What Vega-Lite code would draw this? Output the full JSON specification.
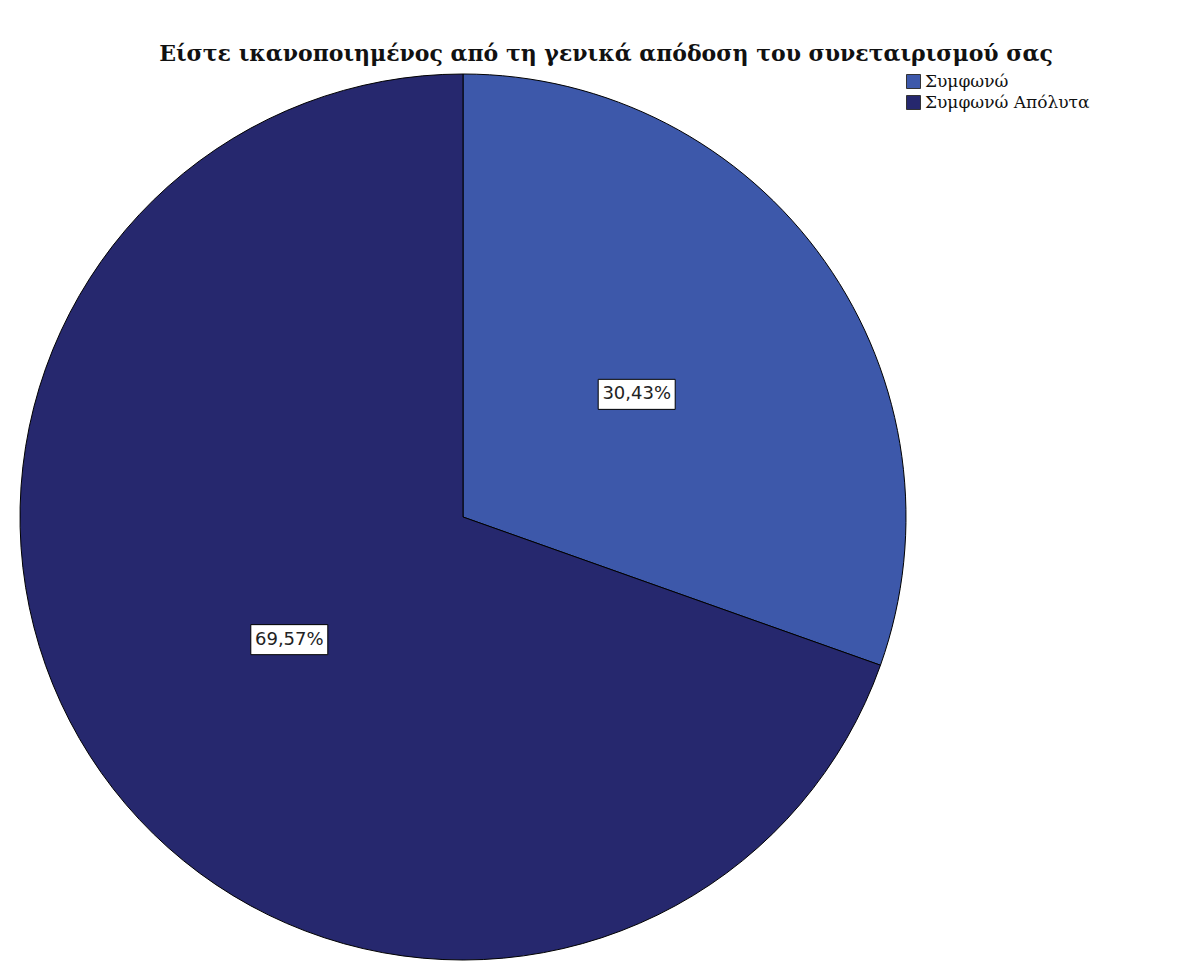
{
  "$schema": "https://vega.github.io/schema/vega-lite/v6.json",
  "autosize": {"type": "none"},
  "padding": {"left": 20, "top": 74, "right": 287, "bottom": 1},
  "width": 886,
  "height": 886,
  "background": "white",
  "title": {
    "text": "Είστε ικανοποιημένος από τη γενικά απόδοση του συνεταιρισμού σας",
    "font": "DejaVu Serif",
    "fontSize": 22,
    "fontWeight": "bold",
    "color": "#111111",
    "anchor": "middle",
    "frame": "group",
    "dx": 143,
    "offset": 6
  },
  "data": {
    "values": [
      {"category": "Συμφωνώ", "value": 30.43, "label": "30,43%"},
      {"category": "Συμφωνώ Απόλυτα", "value": 69.57, "label": "69,57%"}
    ]
  },
  "config": {"view": {"stroke": null}},
  "layer": [
    {
      "mark": {"type": "arc", "stroke": "#000000", "strokeWidth": 1, "outerRadius": 443},
      "encoding": {
        "theta": {"field": "value", "type": "quantitative", "stack": true},
        "color": {
          "field": "category",
          "type": "nominal",
          "scale": {"domain": ["Συμφωνώ", "Συμφωνώ Απόλυτα"], "range": ["#3D58AA", "#26286E"]},
          "legend": {
            "title": null,
            "orient": "none",
            "legendX": 885,
            "legendY": -1,
            "padding": 0,
            "symbolType": "square",
            "symbolSize": 196,
            "symbolStrokeColor": "#333333",
            "symbolStrokeWidth": 1,
            "symbolOpacity": 1,
            "labelFont": "DejaVu Serif",
            "labelFontSize": 17,
            "labelLimit": 300,
            "labelColor": "#111111",
            "labelOffset": 3,
            "rowPadding": 2
          }
        }
      }
    },
    {
      "transform": [
        {"joinaggregate": [{"op": "sum", "field": "value", "as": "total"}]},
        {"window": [{"op": "sum", "field": "value", "as": "cum"}], "sort": [{"field": "category", "order": "ascending"}], "frame": [null, 0]},
        {"calculate": "(datum.cum - datum.value / 2) / datum.total * 2 * PI", "as": "mid"},
        {"calculate": "0.48 * sin(datum.mid)", "as": "lx"},
        {"calculate": "0.48 * cos(datum.mid)", "as": "ly"}
      ],
      "layer": [
        {
          "mark": {"type": "point", "shape": "M-1,-0.39H1V0.39H-1Z", "size": 5929, "filled": true, "fill": "white", "stroke": "#000000", "strokeWidth": 1, "opacity": 1},
          "encoding": {
            "x": {"field": "lx", "type": "quantitative", "scale": {"domain": [-1, 1], "nice": false, "zero": false}, "axis": null},
            "y": {"field": "ly", "type": "quantitative", "scale": {"domain": [-1, 1], "nice": false, "zero": false}, "axis": null}
          }
        },
        {
          "mark": {"type": "text", "font": "DejaVu Sans", "fontSize": 18, "color": "#222222", "align": "center", "baseline": "middle"},
          "encoding": {
            "x": {"field": "lx", "type": "quantitative", "scale": {"domain": [-1, 1], "nice": false, "zero": false}, "axis": null},
            "y": {"field": "ly", "type": "quantitative", "scale": {"domain": [-1, 1], "nice": false, "zero": false}, "axis": null},
            "text": {"field": "label", "type": "nominal"}
          }
        }
      ]
    }
  ]
}
